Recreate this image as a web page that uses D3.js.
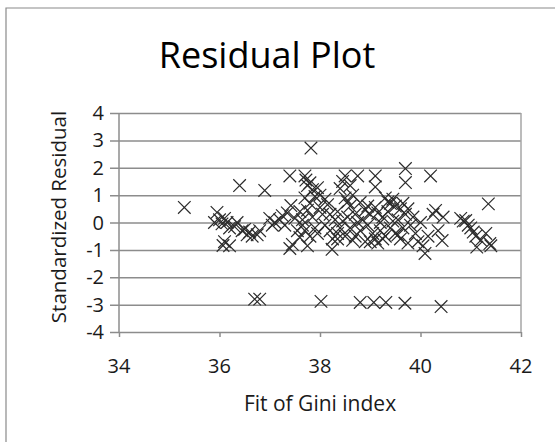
<!DOCTYPE html>
<html>
<head>
<meta charset="utf-8">
<script src="https://d3js.org/d3.v7.min.js"></script>
<style>
  body { margin: 0; background: #fff; }
  text { font-family: "Open Sans", sans-serif; fill: #1a1a1a; }
</style>
</head>
<body>
<div id="chart"></div>
<script>
// fitted gini index and standardized residual
var fitX = [
    35.3, 35.95, 35.9, 36.0, 36.05, 36.1, 36.15, 36.2, 36.1, 36.2, 36.07, 36.3, 36.35, 36.4, 36.45, 36.5,
    36.55, 36.6, 36.65, 36.75, 36.8, 36.9, 37.0, 37.05, 37.1, 37.2, 37.25, 37.3, 37.35, 37.42, 37.45, 37.4,
    37.4, 37.5, 37.55, 37.6, 37.65, 36.7, 36.8,
    37.7, 37.72, 37.75, 37.8, 37.82, 37.85, 37.95, 38.0, 37.7, 37.8, 37.85, 37.9, 37.7, 37.8, 37.95, 38.0,
    38.05, 38.1, 38.15, 38.2, 38.25, 38.24, 38.3, 38.02, 37.75,
    38.35, 38.4, 38.45, 38.5, 38.5, 38.55, 38.6, 38.6, 38.65, 38.7, 38.7, 38.75, 38.8, 38.8, 38.85, 38.9,
    38.9, 38.95, 38.5, 38.4, 38.45, 38.8,
    39.0, 39.05, 39.1, 39.1, 39.1, 39.1, 39.15, 39.2, 39.2, 39.25, 39.3, 39.3, 39.35, 39.4, 39.4, 39.45,
    39.5, 39.5, 39.55, 39.6, 39.6, 39.65, 39.7, 39.7, 39.7, 39.75, 39.75, 39.8, 39.07, 39.31, 39.69,
    39.85, 39.9, 39.95, 40.0, 40.05, 40.09, 40.15, 40.2, 40.25, 40.3, 40.35, 40.43, 40.45, 40.41,
    40.8, 40.85, 40.9, 40.95, 41.0, 41.05, 41.1, 41.12, 41.2, 41.3, 41.35, 41.38, 41.4,
    37.65, 37.75, 37.9, 38.1, 38.2, 38.35, 38.55, 38.65, 38.75, 38.95, 39.0, 39.15, 39.25, 39.35,
    39.45, 39.55, 39.65, 38.6, 38.35, 37.6
];
var stdResid = [
    0.55, 0.37, 0.0, 0.1, -0.05, 0.15, 0.0, -0.2, -0.7, -0.85, -0.84, -0.15, 0.0, 1.35, -0.3, -0.25,
    -0.45, -0.35, -0.5, -0.45, -0.3, 1.17, 0.15, -0.1, 0.0, 0.1, 0.25, -0.1, 0.35, 0.62, -0.8, -0.95,
    1.7, 0.15, -0.3, 0.4, -0.1, -2.8, -2.8,
    1.7, 1.55, 1.35, 1.45, 2.72, 1.2, 1.27, 1.0, 0.9, 0.7, 0.2, -0.2, -0.3, -0.5, -0.4, 0.55,
    0.3, -0.1, 0.65, -0.3, -0.6, -0.98, 0.1, -2.88, -0.85,
    0.4, 1.24, 1.5, 1.7, 0.9, 0.2, 0.6, -0.2, 1.0, -0.5, 0.3, 1.7, 0.73, -0.3, 0.1, -0.7,
    0.45, -0.1, -0.5, -0.2, 0.05, -2.92,
    0.3, -0.4, 1.7, 1.3, 0.55, -0.6, -0.75, 0.0, -0.3, 0.2, 0.9, -0.5, 0.4, 0.7, -0.2, 0.85,
    0.6, -0.4, 0.1, 0.5, -0.6, -0.2, 1.97, 1.46, 0.3, 0.5, -0.75, -0.1, -2.92, -2.92, -2.95,
    0.2, -0.4, -0.7, 0.0, -0.85, -1.13, -0.5, 1.7, 0.3, 0.44, -0.3, -0.66, 0.2, -3.07,
    0.15, 0.05, 0.07, -0.1, -0.2, -0.35, -0.5, -0.9, -0.65, -0.4, 0.68, -0.77, -0.85,
    0.1, 0.45, 0.95, 0.85, 0.3, -0.4, 0.75, -0.65, 0.0, 0.6, -0.7, 0.35, -0.6, 0.75,
    0.05, -0.45, 0.7, 1.35, -0.6, -0.55
];
var xTicks = [34, 36, 38, 40, 42];
var yTicks = [-4, -3, -2, -1, 0, 1, 2, 3, 4];

var titleText = "Residual Plot";
var xLabel = "Fit of Gini index";
var yLabel = "Standardized Residual";

var svg = d3.select("#chart").append("svg").attr("width", 555).attr("height", 442);

// plot area edges
var plotL = 119, plotR = 521, plotT = 113, plotB = 332;

var x_scale = d3.scaleLinear().domain([34, 42]).range([plotL, plotR]);
var y_scale = d3.scaleLinear().domain([-4, 4]).range([plotB, plotT]);

// outer chart frame (only top and left edges fall inside the picture)
svg.append("path")
    .attr("d", "M6,442 L6,8 L555,8")
    .attr("fill", "none")
    .attr("stroke", "#8a8a8a")
    .attr("stroke-width", 1.2);

// horizontal gridlines + left tick marks
svg.append("g")
    .attr("transform", "translate(" + plotL + ",0)")
    .call(d3.axisLeft(y_scale).tickValues(yTicks).tickSize(9).tickFormat(""))
    .call(function (g) { g.select(".domain").remove(); })
    .call(function (g) {
        g.selectAll(".tick line")
            .attr("x2", plotR - plotL)
            .attr("x1", -9)
            .attr("stroke", "#8c8c8c")
            .attr("stroke-width", 1.5);
    });

// y tick labels
svg.append("g").selectAll("text")
    .data(yTicks)
    .enter()
    .append("text")
    .attr("x", 104)
    .attr("y", function (d) { return y_scale(d) + 7; })
    .attr("text-anchor", "end")
    .style("font-size", "20px")
    .text(function (d) { return d; });

// x axis with small ticks below the plot
svg.append("g")
    .attr("transform", "translate(0," + plotB + ")")
    .call(d3.axisBottom(x_scale).tickValues(xTicks).tickSize(5).tickFormat(""))
    .call(function (g) {
        g.select(".domain").remove();
        g.selectAll(".tick line").attr("stroke", "#8c8c8c").attr("stroke-width", 1.5);
    });

svg.append("g").selectAll("text")
    .data(xTicks)
    .enter()
    .append("text")
    .attr("x", function (d) { return x_scale(d); })
    .attr("y", 373)
    .attr("text-anchor", "middle")
    .style("font-size", "20px")
    .text(function (d) { return d; });

// plot area border (left and right vertical lines)
svg.append("line")
    .attr("x1", plotL).attr("x2", plotL).attr("y1", plotT).attr("y2", plotB)
    .attr("stroke", "#8c8c8c").attr("stroke-width", 1.5);
svg.append("line")
    .attr("x1", plotR).attr("x2", plotR).attr("y1", plotT).attr("y2", plotB)
    .attr("stroke", "#a6a6a6").attr("stroke-width", 1.5);

// the markers
var marker = d3.symbol().type(d3.symbolX).size(105);
svg.append("g").selectAll("path")
    .data(fitX)
    .enter()
    .append("path")
    .attr("d", marker)
    .attr("transform", function (d, i) {
        return "translate(" + x_scale(d) + "," + y_scale(stdResid[i]) + ")";
    })
    .attr("fill", "none")
    .attr("stroke", "#2b2b2b")
    .attr("stroke-width", 1.2);

// titles
svg.append("text")
    .attr("x", 267)
    .attr("y", 68)
    .attr("text-anchor", "middle")
    .style("font-size", "36px")
    .style("fill", "#000")
    .text(titleText);

svg.append("text")
    .attr("x", (plotL + plotR) / 2)
    .attr("y", 411)
    .attr("text-anchor", "middle")
    .style("font-size", "21px")
    .text(xLabel);

svg.append("text")
    .attr("transform", "translate(66,217) rotate(-90)")
    .attr("text-anchor", "middle")
    .style("font-size", "20.5px")
    .text(yLabel);
</script>
</body>
</html>
